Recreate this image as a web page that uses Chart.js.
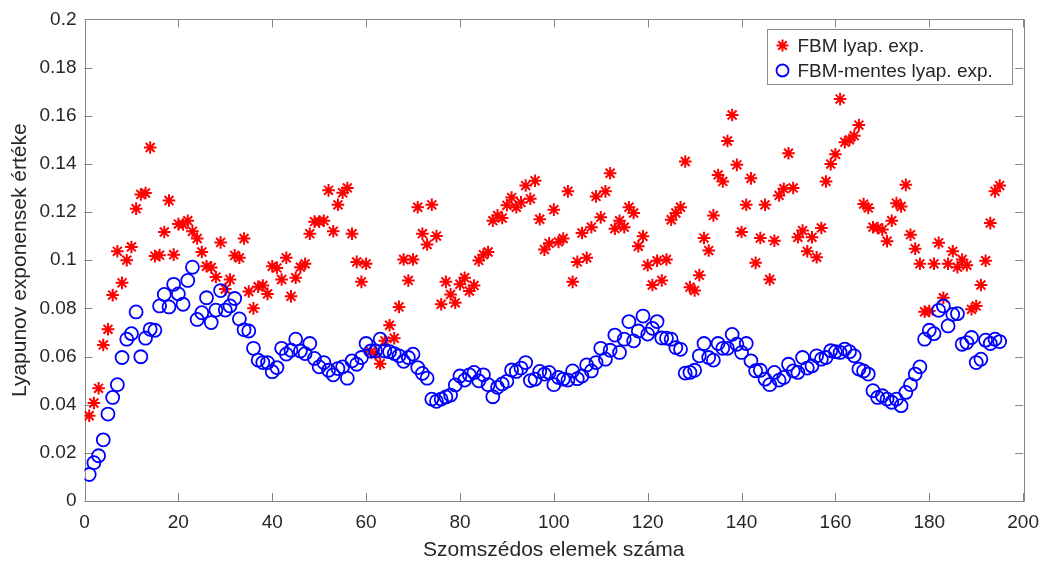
<!DOCTYPE html>
<html>
<head>
<meta charset="utf-8">
<title>Lyapunov exponensek</title>
<script src="https://cdn.jsdelivr.net/npm/chart.js@4/dist/chart.umd.min.js"></script>
<style>
  html, body { margin: 0; padding: 0; background: #ffffff; }
  #wrap { width: 1049px; height: 565px; position: relative; }
</style>
</head>
<body>
<div id="wrap"><canvas id="chart" width="1049" height="565"></canvas></div>
<script>
// Number of neighbouring elements (x positions)
const neighbourCounts = [
  1,2,3,4,5,6,7,8,9,10,11,12,13,14,15,16,17,18,19,20,
  21,22,23,24,25,26,27,28,29,30,31,32,33,34,35,36,37,38,39,40,
  41,42,43,44,45,46,47,48,49,50,51,52,53,54,55,56,57,58,59,60,
  61,62,63,64,65,66,67,68,69,70,71,72,73,74,75,76,77,78,79,80,
  81,82,83,84,85,86,87,88,89,90,91,92,93,94,95,96,97,98,99,100,
  101,102,103,104,105,106,107,108,109,110,111,112,113,114,115,116,117,118,119,120,
  121,122,123,124,125,126,127,128,129,130,131,132,133,134,135,136,137,138,139,140,
  141,142,143,144,145,146,147,148,149,150,151,152,153,154,155,156,157,158,159,160,
  161,162,163,164,165,166,167,168,169,170,171,172,173,174,175,176,177,178,179,180,
  181,182,183,184,185,186,187,188,189,190,191,192,193,194,195
];

// Lyapunov exponent with FBM
const fbmExponent = [
  0.0354,0.0407,0.0468,0.0648,0.0713,0.0855,0.1037,0.0906,0.1000,0.1055,
  0.1214,0.1273,0.1279,0.1468,0.1017,0.1021,0.1117,0.1248,0.1023,0.1150,
  0.1148,0.1164,0.1120,0.1090,0.1034,0.0975,0.0970,0.0930,0.1074,0.0880,
  0.0920,0.1020,0.1010,0.1090,0.0870,0.0800,0.0890,0.0895,0.0860,0.0975,
  0.0968,0.0920,0.1010,0.0850,0.0927,0.0971,0.0985,0.1110,0.1160,0.1160,
  0.1164,0.1290,0.1120,0.1230,0.1280,0.1300,0.1110,0.0993,0.0910,0.0985,
  0.0620,0.0610,0.0570,0.0665,0.0730,0.0676,0.0806,0.1003,0.0916,0.1003,
  0.1220,0.1110,0.1065,0.1230,0.1100,0.0817,0.0910,0.0858,0.0823,0.0900,
  0.0927,0.0872,0.0895,0.0999,0.1023,0.1034,0.1164,0.1186,0.1175,0.1228,
  0.1260,0.1220,0.1240,0.1310,0.1255,0.1330,0.1170,0.1044,0.1070,0.1210,
  0.1076,0.1090,0.1286,0.0910,0.0993,0.1113,0.1010,0.1137,0.1265,0.1178,
  0.1286,0.1361,0.1131,0.1164,0.1137,0.1220,0.1196,0.1058,0.1099,0.0979,
  0.0897,0.0998,0.0916,0.1003,0.1168,0.1196,0.1220,0.1410,0.0888,0.0874,
  0.0938,0.1092,0.1040,0.1186,0.1354,0.1327,0.1495,0.1603,0.1396,0.1117,
  0.1230,0.1340,0.0989,0.1092,0.1230,0.0920,0.1081,0.1269,0.1297,0.1444,
  0.1300,0.1095,0.1123,0.1037,0.1095,0.1012,0.1134,0.1327,0.1399,0.1440,
  0.1669,0.1490,0.1500,0.1517,0.1561,0.1233,0.1217,0.1137,0.1134,0.1127,
  0.1079,0.1164,0.1237,0.1223,0.1313,0.1106,0.1048,0.0985,0.0786,0.0789,
  0.0985,0.1072,0.0844,0.0985,0.1037,0.0971,0.1003,0.0979,0.0796,0.0810,
  0.0897,0.0998,0.1154,0.1286,0.1310
];

// Lyapunov exponent without FBM
const fbmFreeExponent = [
  0.0110,0.0159,0.0188,0.0254,0.0361,0.0430,0.0483,0.0596,0.0672,0.0695,
  0.0785,0.0599,0.0676,0.0713,0.0709,0.0810,0.0858,0.0806,0.0900,0.0860,
  0.0817,0.0916,0.0971,0.0754,0.0782,0.0844,0.0741,0.0793,0.0874,0.0793,
  0.0810,0.0841,0.0756,0.0711,0.0706,0.0634,0.0585,0.0575,0.0575,0.0537,
  0.0554,0.0634,0.0610,0.0626,0.0672,0.0623,0.0612,0.0654,0.0592,0.0557,
  0.0575,0.0543,0.0524,0.0550,0.0557,0.0510,0.0582,0.0568,0.0596,0.0654,
  0.0623,0.0623,0.0672,0.0623,0.0620,0.0612,0.0603,0.0580,0.0596,0.0610,
  0.0554,0.0530,0.0510,0.0423,0.0414,0.0423,0.0432,0.0440,0.0482,0.0519,
  0.0502,0.0524,0.0534,0.0499,0.0524,0.0483,0.0433,0.0472,0.0486,0.0497,
  0.0544,0.0538,0.0552,0.0575,0.0500,0.0506,0.0538,0.0527,0.0534,0.0483,
  0.0513,0.0506,0.0502,0.0540,0.0508,0.0519,0.0565,0.0540,0.0575,0.0634,
  0.0589,0.0626,0.0689,0.0617,0.0672,0.0745,0.0665,0.0706,0.0768,0.0693,
  0.0717,0.0745,0.0677,0.0676,0.0672,0.0637,0.0630,0.0531,0.0534,0.0543,
  0.0603,0.0654,0.0596,0.0585,0.0654,0.0634,0.0634,0.0692,0.0651,0.0617,
  0.0654,0.0582,0.0541,0.0543,0.0506,0.0483,0.0534,0.0502,0.0513,0.0568,
  0.0540,0.0534,0.0596,0.0552,0.0561,0.0603,0.0589,0.0596,0.0624,0.0620,
  0.0617,0.0631,0.0620,0.0603,0.0548,0.0540,0.0527,0.0458,0.0430,0.0437,
  0.0423,0.0410,0.0423,0.0396,0.0451,0.0483,0.0527,0.0557,0.0672,0.0709,
  0.0695,0.0792,0.0810,0.0727,0.0775,0.0778,0.0651,0.0658,0.0679,0.0575,
  0.0589,0.0668,0.0654,0.0672,0.0662
];

// Axis ticks
const xTickValues = [0, 20, 40, 60, 80, 100, 120, 140, 160, 180, 200];
const xTickLabels = ['0', '20', '40', '60', '80', '100', '120', '140', '160', '180', '200'];
const yTickValues = [0, 0.02, 0.04, 0.06, 0.08, 0.1, 0.12, 0.14, 0.16, 0.18, 0.2];
const yTickLabels = ['0', '0.02', '0.04', '0.06', '0.08', '0.1', '0.12', '0.14', '0.16', '0.18', '0.2'];

const seriesLabels = ['FBM lyap. exp.', 'FBM-mentes lyap. exp.'];

const FONT = "'Liberation Sans', Arial, Helvetica, sans-serif";
const TEXT_COLOR = '#262626';
const AXIS_COLOR = '#868686';
const RED = 'rgb(255,0,0)';
const BLUE = 'rgb(0,0,255)';

function toPoints(xs, ys) {
  return ys.map((y, i) => ({ x: xs[i], y: y }));
}

// Boxed axes with inward tick marks on all four sides
const boxAxes = {
  id: 'boxAxes',
  beforeDatasetsDraw(chart) {
    const { ctx, chartArea: a, scales } = chart;
    const len = 8;
    ctx.save();
    ctx.strokeStyle = AXIS_COLOR;
    ctx.lineWidth = 1;
    ctx.beginPath();
    ctx.rect(Math.round(a.left) + 0.5, Math.round(a.top) + 0.5,
             Math.round(a.right - a.left), Math.round(a.bottom - a.top));
    xTickValues.forEach(v => {
      const px = Math.round(scales.x.getPixelForValue(v)) + 0.5;
      ctx.moveTo(px, a.bottom); ctx.lineTo(px, a.bottom - len);
      ctx.moveTo(px, a.top); ctx.lineTo(px, a.top + len);
    });
    yTickValues.forEach(v => {
      const py = Math.round(scales.y.getPixelForValue(v)) + 0.5;
      ctx.moveTo(a.left, py); ctx.lineTo(a.left + len, py);
      ctx.moveTo(a.right, py); ctx.lineTo(a.right - len, py);
    });
    ctx.stroke();
    ctx.restore();
  }
};

// Legend box in the upper right corner of the plot
const boxLegend = {
  id: 'boxLegend',
  afterDatasetsDraw(chart) {
    const { ctx } = chart;
    const x0 = 767.5, y0 = 29.5, w = 245, h = 55;
    ctx.save();
    ctx.fillStyle = '#ffffff';
    ctx.fillRect(x0, y0, w, h);
    ctx.strokeStyle = '#8c8c8c';
    ctx.lineWidth = 1;
    ctx.strokeRect(x0, y0, w, h);
    const rows = [y0 + 16, y0 + 41];
    chart.data.datasets.forEach((ds, i) => {
      const y = rows[i];
      ctx.strokeStyle = ds.borderColor;
      ctx.fillStyle = 'rgba(0,0,0,0)';
      ctx.lineWidth = ds.borderWidth;
      Chart.helpers.drawPoint(ctx, {
        pointStyle: ds.pointStyle,
        radius: 6,
        rotation: 0,
        borderWidth: ds.borderWidth
      }, x0 + 15, y);
      ctx.fillStyle = TEXT_COLOR;
      ctx.font = '19px ' + FONT;
      ctx.textAlign = 'left';
      ctx.textBaseline = 'middle';
      ctx.fillText(ds.label, x0 + 30, y + 1);
    });
    ctx.restore();
  }
};

new Chart(document.getElementById('chart'), {
  type: 'scatter',
  data: {
    datasets: [
      {
        label: seriesLabels[0],
        data: toPoints(neighbourCounts, fbmExponent),
        pointStyle: 'star',
        pointRadius: 6.3,
        pointHoverRadius: 6.3,
        borderColor: RED,
        backgroundColor: 'rgba(0,0,0,0)',
        borderWidth: 2,
        order: 1
      },
      {
        label: seriesLabels[1],
        data: toPoints(neighbourCounts, fbmFreeExponent),
        pointStyle: 'circle',
        pointRadius: 6.5,
        pointHoverRadius: 6.5,
        borderColor: BLUE,
        backgroundColor: 'rgba(0,0,0,0)',
        borderWidth: 1.8,
        order: 0
      }
    ]
  },
  options: {
    responsive: false,
    animation: false,
    devicePixelRatio: 1,
    layout: { padding: { top: 18, right: 24, left: 0, bottom: 0 } },
    plugins: {
      legend: { display: false },
      tooltip: { enabled: false }
    },
    scales: {
      x: {
        type: 'linear',
        min: 0,
        max: 200,
        afterFit(scale) { scale.height = 64; },
        afterBuildTicks(scale) { scale.ticks = xTickValues.map(v => ({ value: v })); },
        grid: { display: false, drawTicks: false },
        border: { display: false },
        ticks: {
          autoSkip: false,
          maxRotation: 0,
          padding: 10,
          color: TEXT_COLOR,
          font: { family: FONT, size: 19 },
          callback: (v, i) => xTickLabels[i]
        },
        title: {
          display: true,
          text: 'Szomszédos elemek száma',
          color: TEXT_COLOR,
          font: { family: FONT, size: 21 },
          padding: { top: 0, bottom: 2 }
        }
      },
      y: {
        type: 'linear',
        min: 0,
        max: 0.2,
        afterFit(scale) { scale.width = 84.5; },
        afterBuildTicks(scale) { scale.ticks = yTickValues.map(v => ({ value: v })); },
        grid: { display: false, drawTicks: false },
        border: { display: false },
        ticks: {
          autoSkip: false,
          padding: 8,
          color: TEXT_COLOR,
          font: { family: FONT, size: 19 },
          callback: (v, i) => yTickLabels[i]
        },
        title: {
          display: true,
          text: 'Lyapunov exponensek értéke',
          color: TEXT_COLOR,
          font: { family: FONT, size: 21 },
          padding: { top: 8, bottom: 0 }
        }
      }
    }
  },
  plugins: [boxAxes, boxLegend]
});
</script>
</body>
</html>
